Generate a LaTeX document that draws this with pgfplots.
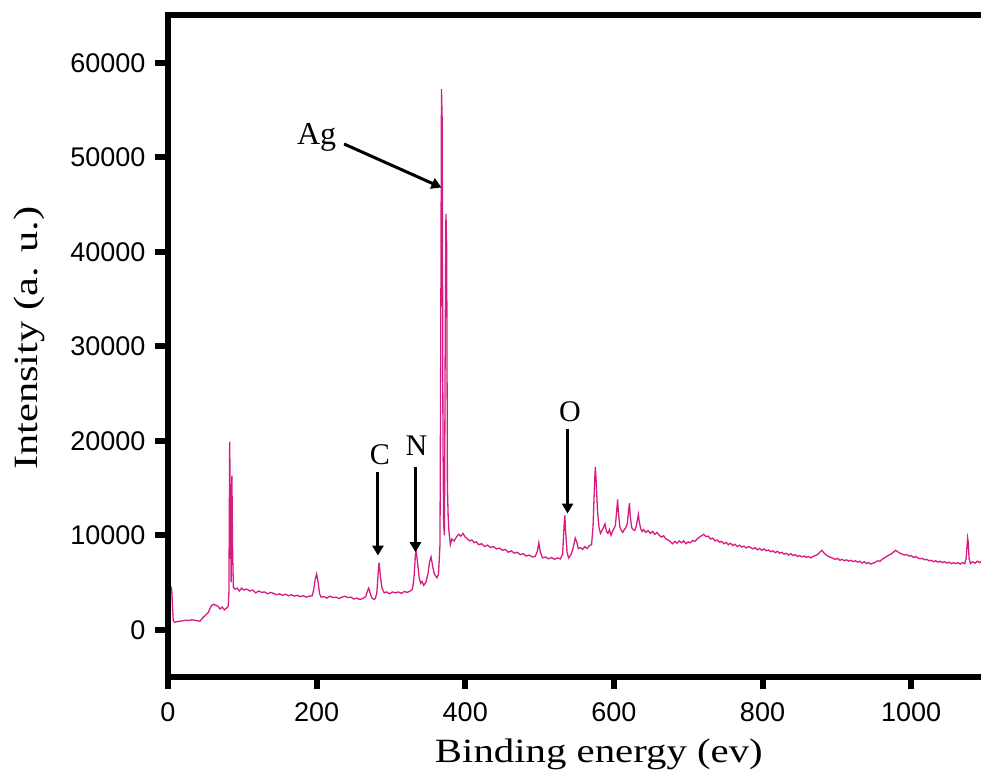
\documentclass[border=0pt]{standalone}
\usepackage{fontspec}
\setmainfont{Liberation Serif}
\newfontfamily\arial{Liberation Sans}
\usepackage{graphicx}
\usepackage{pgfplots}
\pgfplotsset{compat=1.18}
\usetikzlibrary{arrows.meta}
\definecolor{xpsline}{RGB}{214,28,128}

\begin{document}
\begin{tikzpicture}
\begin{axis}[
    width=406.5pt, height=330.75pt, scale only axis,
    xmin=0, xmax=1094, ymin=-5000, ymax=65000,
    xtick={0,200,...,1000}, ytick={0,10000,...,60000},
    axis lines*=left, axis line style={draw=none},
    tick align=outside, major tick length=6.25pt,
    tick style={line width=3pt, black},
    scaled y ticks=false,
    /pgf/number format/1000 sep={},
    /pgf/number format/assume math mode=true,
    tick label style={font=\arial\fontsize{13.5}{15}\selectfont},
    xticklabel style={yshift=-3pt},
    yticklabel style={xshift=-1.5pt},
    xlabel={\scalebox{1.2}[1]{Binding energy (ev)}},
    ylabel={\scalebox{1.25}[1]{Intensity (a. u.)}},
    label style={font=\fontsize{17}{19}\selectfont},
    xlabel style={at={(axis description cs:0.53,-0.130)}, anchor=base},
    ylabel style={at={(axis description cs:-0.160,0.512)}, anchor=base},
    clip=false,
]
\addplot[xpsline, line width=0.65pt] coordinates {
(2,3600) (4,4500) (5,4300) (6,2500) (7,1000) (9,800) (12,850) (16,900) (20,950) (24,1000)
(28,980) (32,1050) (36,1000) (40,950) (43,900) (46,1200) (50,1500) (54,1800) (58,2500) (61,2700)
(64,2600) (67,2500) (70,2200) (73,2400) (76,2100) (79,2300) (81,2500) (82,4000) (83,19900) (84,12000)
(85,5000) (86,16300) (87,8000) (88,4500) (90,4300) (93,4400) (96,4100) (99,4400) (102,4200) (106,4300)
(110,4100) (114,4200) (118,3900) (122,4100) (126,3950) (130,4000) (134,3800) (138,3950) (142,3850) (146,3700)
(150,3800) (154,3650) (158,3750) (162,3600) (166,3700) (170,3550) (174,3650) (178,3500) (182,3600) (186,3450)
(190,3550) (194,3600) (196,4200) (198,5300) (200,5900) (202,5000) (204,3800) (206,3450) (210,3500) (214,3350)
(218,3550) (222,3400) (226,3450) (230,3300) (234,3450) (238,3550) (242,3400) (246,3450) (250,3250) (254,3350)
(258,3200) (262,3300) (266,3500) (268,4000) (270,4400) (272,3900) (274,3400) (277,3200) (279,3300) (281,3900)
(283,6200) (284,7100) (286,5500) (288,4400) (291,3900) (294,4000) (298,3800) (302,4000) (306,3900) (310,4000)
(314,3850) (318,4050) (322,3950) (326,4100) (329,4300) (331,5500) (333,8000) (334,8300) (336,7000) (338,5500)
(340,4900) (342,5100) (344,4700) (347,5000) (350,6000) (352,7200) (354,7700) (356,6800) (358,6000) (360,5700)
(362,5500) (364,5900) (366,9000) (367,30000) (368,57200) (369,53700) (370,20000) (371,11000) (372,10000) (373,30000)
(374,44000) (375,40800) (376,15000) (377,12000) (378,10500) (380,9000) (382,9600) (385,9400) (388,9800) (391,10100)
(394,9900) (397,10200) (400,9800) (403,9600) (406,9400) (409,9500) (412,9200) (415,9300) (418,9000) (422,9100)
(426,8800) (430,8950) (434,8700) (438,8800) (442,8550) (446,8650) (450,8400) (454,8500) (458,8200) (462,8350)
(466,8100) (470,8200) (474,7950) (478,8050) (482,7800) (486,7900) (490,7700) (494,7750) (497,8300) (499,9200)
(501,8200) (504,7600) (508,7700) (512,7500) (516,7650) (520,7450) (524,7600) (528,7500) (531,8000) (533,11000)
(534,12100) (535,10500) (537,8200) (539,7600) (542,7900) (545,8600) (548,9700) (550,9300) (552,8600) (555,8700)
(558,8500) (561,8800) (564,8600) (567,8900) (570,9000) (572,11000) (574,15500) (575,17200) (576,16000) (578,12500)
(580,10800) (582,10200) (584,10500) (586,10800) (588,11200) (590,10400) (592,10200) (594,10600) (596,10000) (598,10400)
(600,10700) (602,11000) (604,12800) (605,13800) (606,12500) (608,10900) (610,10500) (612,10300) (614,10600) (616,10800)
(618,11200) (620,12800) (621,13400) (622,12000) (624,10800) (626,10600) (628,10500) (630,10900) (632,11800) (633,12200)
(634,11500) (636,10700) (638,10400) (640,10600) (643,10300) (646,10500) (649,10200) (652,10400) (655,10100) (658,10300)
(661,10000) (664,9800) (667,9950) (670,9600) (673,9500) (676,9300) (679,9100) (682,9350) (685,9150) (688,9400)
(691,9200) (694,9400) (697,9100) (700,9300) (703,9200) (706,9450) (709,9350) (712,9600) (715,9800) (718,9950)
(721,10100) (724,9850) (727,9900) (730,9600) (733,9700) (736,9400) (739,9500) (742,9250) (745,9350) (748,9100)
(751,9250) (754,9000) (757,9150) (760,8900) (763,9050) (766,8800) (769,8950) (772,8750) (775,8850) (778,8650)
(781,8800) (784,8700) (787,8550) (790,8700) (793,8450) (796,8600) (799,8400) (802,8550) (805,8350) (808,8450)
(811,8250) (814,8350) (817,8150) (820,8300) (823,8100) (826,8200) (829,8000) (832,8100) (835,7900) (838,8050)
(841,7850) (844,7950) (847,7750) (850,7850) (853,7700) (856,7800) (859,7650) (862,7750) (865,7600) (868,7750)
(871,7850) (874,7950) (877,8200) (880,8400) (883,8100) (886,7900) (889,7750) (892,7650) (895,7550) (898,7450)
(901,7550) (904,7350) (907,7450) (910,7300) (913,7400) (916,7250) (919,7350) (922,7200) (925,7300) (928,7150)
(931,7250) (934,7050) (937,7200) (940,7000) (943,7100) (946,6950) (949,7050) (952,7150) (955,7300) (958,7250)
(961,7450) (964,7600) (967,7750) (970,7900) (973,8000) (976,8200) (979,8400) (982,8250) (985,8100) (988,8000)
(991,7900) (994,7950) (997,7800) (1000,7850) (1003,7650) (1006,7750) (1009,7600) (1012,7500) (1015,7550) (1018,7400)
(1021,7450) (1024,7300) (1027,7350) (1030,7200) (1033,7300) (1036,7150) (1039,7250) (1042,7100) (1045,7200) (1048,7050)
(1051,7150) (1054,7000) (1057,7100) (1060,7000) (1063,7100) (1066,6950) (1069,7100) (1072,7000) (1074,7500) (1076,9700)
(1077,9200) (1078,7500) (1080,7000) (1083,7200) (1086,7050) (1089,7250) (1092,7100) (1094,7200)
};

% peak labels
\tikzset{lbl/.style={font=\fontsize{15}{17}\selectfont, anchor=base},
         arr/.style={line width=1.5pt, -{Triangle[length=5pt,width=5.5pt]}}}
\node[lbl, font=\fontsize{16}{18}\selectfont] at (axis cs:200,51400) {Ag};
\draw[arr] (axis cs:237,51400) -- (axis cs:368,46800);
\node[lbl] at (axis cs:285,17500) {C};
\draw[arr] (axis cs:282.5,16700) -- (axis cs:282.5,7850);
\node[lbl] at (axis cs:334.5,18400) {N};
\draw[arr] (axis cs:333,17200) -- (axis cs:333,8200);
\node[lbl] at (axis cs:541,22000) {O};
\draw[arr] (axis cs:537.7,21200) -- (axis cs:537.7,12300);

\coordinate (bl) at (rel axis cs:0,0);
\coordinate (tr) at (rel axis cs:1,1);
\end{axis}
\draw[line width=3pt, miter limit=10] (tr) -- (tr -| bl) -- (bl) -- (bl -| tr);
\pgfresetboundingbox
\path[use as bounding box] ([xshift=-84pt, yshift=-53pt]bl) rectangle ([yshift=7.75pt]tr);
\end{tikzpicture}
\end{document}
